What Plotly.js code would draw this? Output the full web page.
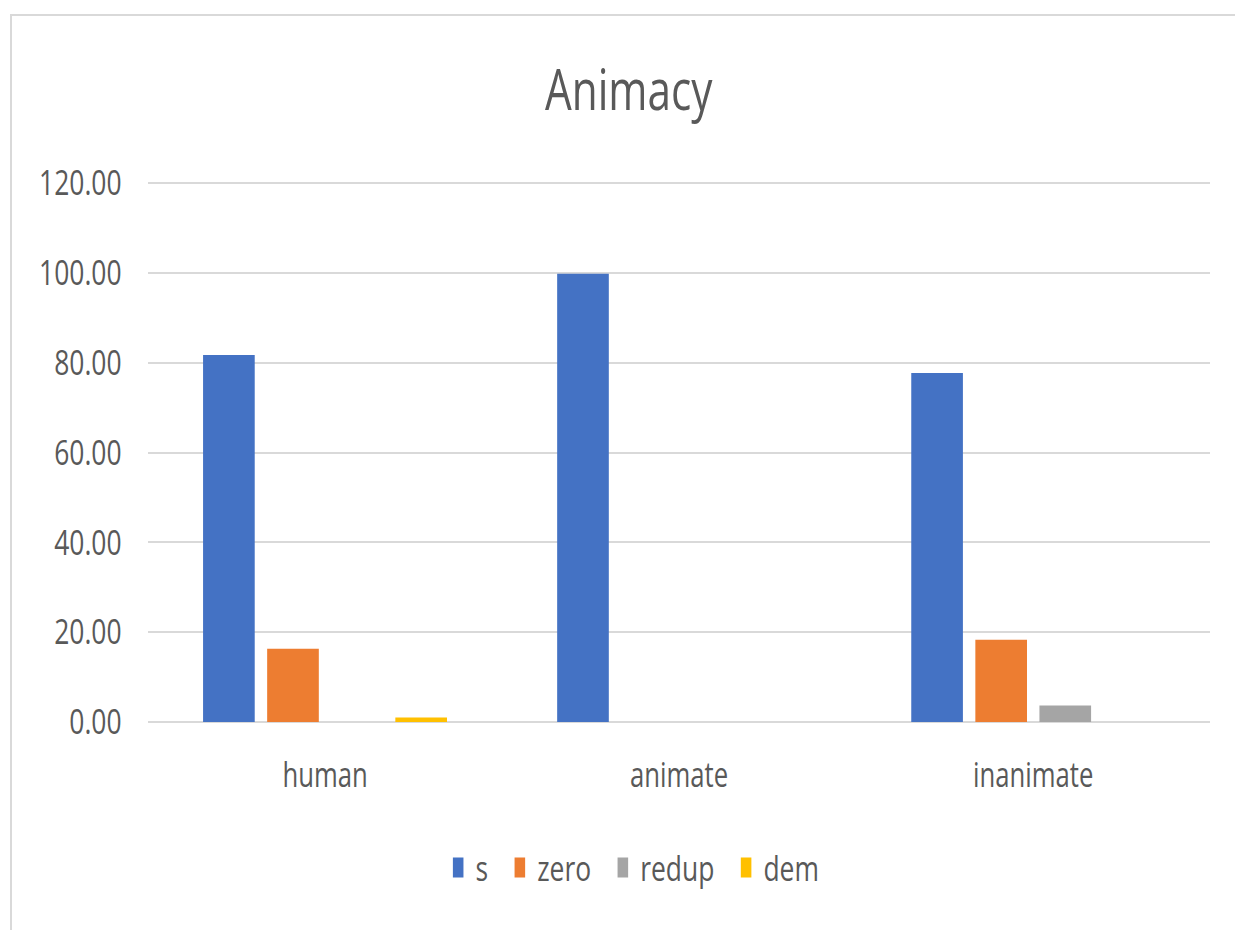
<!DOCTYPE html>
<html>
<head>
<meta charset="utf-8">
<script src="https://cdn.plot.ly/plotly-3.0.1.min.js"></script>
<style>
  html, body { margin: 0; padding: 0; background: #ffffff; }
  #frame { position: relative; width: 1235px; height: 930px; overflow: hidden; background: #ffffff; }
  #edge { position: absolute; left: 10px; top: 14px; width: 1300px; height: 1000px;
          border-left: 2px solid #d9d9d9; border-top: 2px solid #d9d9d9; pointer-events: none; }
  #chart { position: absolute; left: 0; top: 0; width: 1636px; height: 930px;
           transform: scaleX(0.755); transform-origin: 0 0; }
</style>
</head>
<body>
<div id="frame">
  <div id="chart"></div>
  <div id="edge"></div>
</div>
<script>
// Animacy categories and the share (%) of each marking strategy
const categories = ["human", "animate", "inanimate"];
const seriesNames = ["s", "zero", "redup", "dem"];
const sValues     = [81.7, 99.8, 77.7];
const zeroValues  = [16.3, 0, 18.3];
const redupValues = [0, 0, 3.7];
const demValues   = [1.0, 0, 0];
const yTicks = [0, 20, 40, 60, 80, 100, 120];

const colors = ["#4472C4", "#ED7D31", "#A5A5A5", "#FFC000"];
const valueSets = [sValues, zeroValues, redupValues, demValues];

const traces = seriesNames.map((name, i) => ({
  type: "bar",
  name: name,
  x: categories,
  y: valueSets[i],
  marker: { color: colors[i] },
  hoverinfo: "none"
}));

const greyText = "#595959";
const layout = {
  width: 1636,
  height: 930,
  margin: { l: 196, r: 33, t: 182, b: 208 },
  paper_bgcolor: "rgba(0,0,0,0)",
  plot_bgcolor: "rgba(0,0,0,0)",
  barmode: "group",
  bargap: 0.276,
  bargroupgap: 0.194,
  font: { family: "Open Sans, sans-serif", color: greyText },
  title: {
    text: "Animacy",
    font: { family: "Open Sans, sans-serif", size: 56, color: greyText },
    x: 0.509, xref: "container", xanchor: "center",
    y: 0.9028, yref: "container", yanchor: "middle"
  },
  xaxis: {
    type: "category",
    showgrid: false,
    showline: false,
    zeroline: false,
    ticks: "",
    ticklabelstandoff: 30,
    tickfont: { size: 34, color: greyText }
  },
  yaxis: {
    // a hair above 120 so the top gridline stays inside the plot area
    range: [0, 120.25],
    tickvals: yTicks,
    tickformat: ".2f",
    showgrid: true,
    gridcolor: "#d9d9d9",
    gridwidth: 2,
    zeroline: true,
    zerolinecolor: "#d9d9d9",
    zerolinewidth: 2,
    showline: false,
    ticks: "",
    ticklabelstandoff: 34,
    tickfont: { size: 35, color: greyText }
  },
  showlegend: true,
  legend: {
    orientation: "h",
    x: 0.4505, xanchor: "center",
    y: -0.27, yanchor: "middle",
    itemwidth: 50,
    font: { size: 35, color: greyText },
    itemclick: false, itemdoubleclick: false,
    traceorder: "normal"
  }
};

Plotly.newPlot("chart", traces, layout, { staticPlot: true, displayModeBar: false }).then(gd => {
  // tall legend keys sitting close to their labels
  gd.querySelectorAll(".legend .legendpoints path").forEach(p => {
    p.setAttribute("d", "M14,10H0V-10H14Z");
  });
});
</script>
</body>
</html>
